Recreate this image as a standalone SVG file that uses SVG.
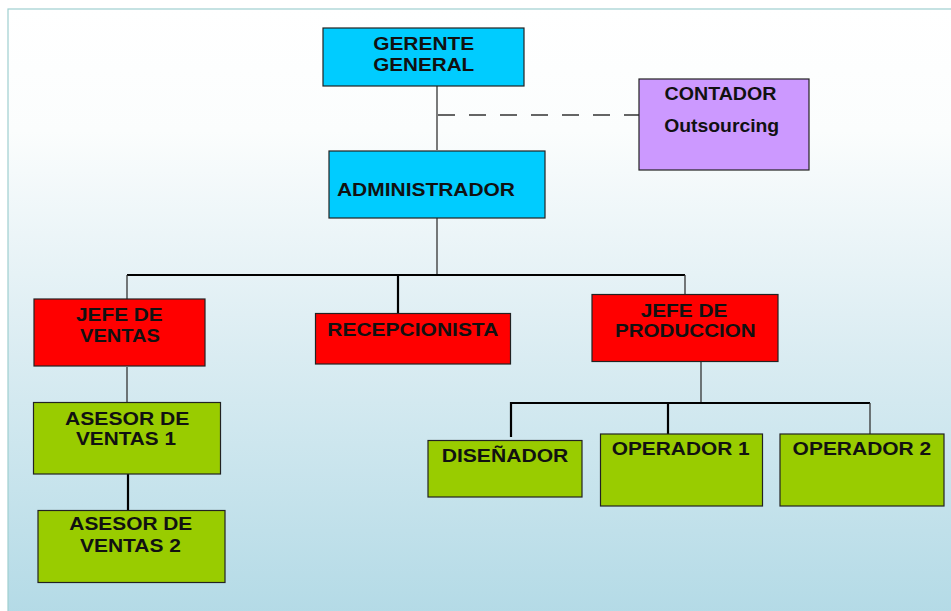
<svg xmlns="http://www.w3.org/2000/svg" width="951" height="611" viewBox="0 0 951 611">
<defs>
<linearGradient id="bg" x1="0" y1="0" x2="0" y2="1">
<stop offset="0" stop-color="#ffffff"/>
<stop offset="0.2" stop-color="#fbfdfd"/>
<stop offset="0.5" stop-color="#e0eff4"/>
<stop offset="1" stop-color="#b3dae6"/>
</linearGradient>
<style>
.box{stroke:#222;stroke-width:1.2}
.cyan{fill:#00ccff}
.purple{fill:#cc99ff}
.red{fill:#ff0000}
.green{fill:#99cc00}
.t{font-family:"Liberation Sans",Arial,sans-serif;font-weight:bold;font-size:18.5px;fill:#111;text-anchor:middle}
.thin{stroke:#333;stroke-width:1.3;fill:none}
.thick{stroke:#000;stroke-width:2.2;fill:none}
.dash{stroke:#333;stroke-width:1.3;fill:none;stroke-dasharray:17 14}
</style>
</defs>
<rect x="0" y="0" width="951" height="611" fill="#ffffff"/>
<rect x="8" y="9" width="950" height="610" fill="url(#bg)" stroke="#9fcfd0" stroke-width="1.2"/>

<g id="connectors">
<line class="thin" x1="437" y1="86" x2="437" y2="150"/>
<line class="dash" x1="438" y1="115" x2="639" y2="115"/>
<line class="thin" x1="437" y1="218" x2="437" y2="275"/>
<line class="thick" x1="127" y1="275" x2="685" y2="275"/>
<line class="thin" x1="127" y1="275" x2="127" y2="299"/>
<line class="thick" x1="398" y1="275" x2="398" y2="313"/>
<line class="thin" x1="685" y1="275" x2="685" y2="294"/>
<line class="thin" x1="127" y1="367" x2="127" y2="402"/>
<line class="thick" x1="128" y1="472" x2="128" y2="510"/>
<line class="thin" x1="701" y1="362" x2="701" y2="403"/>
<line class="thick" x1="510" y1="403" x2="870" y2="403"/>
<line class="thick" x1="511" y1="402" x2="511" y2="437"/>
<line class="thick" x1="668" y1="402" x2="668" y2="434"/>
<line class="thin" x1="870" y1="403" x2="870" y2="437"/>
</g>

<g id="gerente">
<rect class="box cyan" x="323" y="28" width="201" height="58"/>
<text class="t" x="423.7" y="50" textLength="101" lengthAdjust="spacingAndGlyphs">GERENTE</text>
<text class="t" x="423.7" y="71" textLength="101" lengthAdjust="spacingAndGlyphs">GENERAL</text>
</g>

<g id="contador">
<rect class="box purple" x="639" y="79" width="170" height="91"/>
<text class="t" x="720.5" y="100" textLength="112" lengthAdjust="spacingAndGlyphs">CONTADOR</text>
<text class="t" x="721.7" y="132" textLength="115" lengthAdjust="spacingAndGlyphs">Outsourcing</text>
</g>

<g id="administrador">
<rect class="box cyan" x="329" y="151" width="216" height="67"/>
<text class="t" x="426" y="196" textLength="178" lengthAdjust="spacingAndGlyphs">ADMINISTRADOR</text>
</g>

<g id="jefe-ventas">
<rect class="box red" x="34" y="299" width="171" height="67"/>
<text class="t" x="119.4" y="321" textLength="86.7" lengthAdjust="spacingAndGlyphs">JEFE DE</text>
<text class="t" x="120" y="341.7" textLength="80" lengthAdjust="spacingAndGlyphs">VENTAS</text>
</g>

<g id="recepcionista">
<rect class="box red" x="315.5" y="313.5" width="195" height="50.5"/>
<text class="t" x="412.8" y="336" textLength="171" lengthAdjust="spacingAndGlyphs">RECEPCIONISTA</text>
</g>

<g id="jefe-produccion">
<rect class="box red" x="592" y="294.5" width="186" height="67"/>
<text class="t" x="684" y="316.7" textLength="86.7" lengthAdjust="spacingAndGlyphs">JEFE DE</text>
<text class="t" x="685.3" y="337" textLength="140.7" lengthAdjust="spacingAndGlyphs">PRODUCCION</text>
</g>

<g id="asesor-1">
<rect class="box green" x="33.5" y="402.5" width="187" height="71.5"/>
<text class="t" x="127.2" y="425" textLength="124.3" lengthAdjust="spacingAndGlyphs">ASESOR DE</text>
<text class="t" x="126" y="445" textLength="100" lengthAdjust="spacingAndGlyphs">VENTAS 1</text>
</g>

<g id="asesor-2">
<rect class="box green" x="38" y="510.5" width="187" height="72"/>
<text class="t" x="130.8" y="530.3" textLength="123" lengthAdjust="spacingAndGlyphs">ASESOR DE</text>
<text class="t" x="130.5" y="552.3" textLength="101" lengthAdjust="spacingAndGlyphs">VENTAS 2</text>
</g>

<g id="disenador">
<rect class="box green" x="428" y="440.5" width="154" height="56.5"/>
<text class="t" x="505" y="462.3" textLength="126.6" lengthAdjust="spacingAndGlyphs">DISEÑADOR</text>
</g>

<g id="operador-1">
<rect class="box green" x="600.5" y="434" width="162" height="72"/>
<text class="t" x="680.7" y="455" textLength="138" lengthAdjust="spacingAndGlyphs">OPERADOR 1</text>
</g>

<g id="operador-2">
<rect class="box green" x="780" y="434" width="164" height="72"/>
<text class="t" x="861.9" y="455" textLength="138.6" lengthAdjust="spacingAndGlyphs">OPERADOR 2</text>
</g>
</svg>
